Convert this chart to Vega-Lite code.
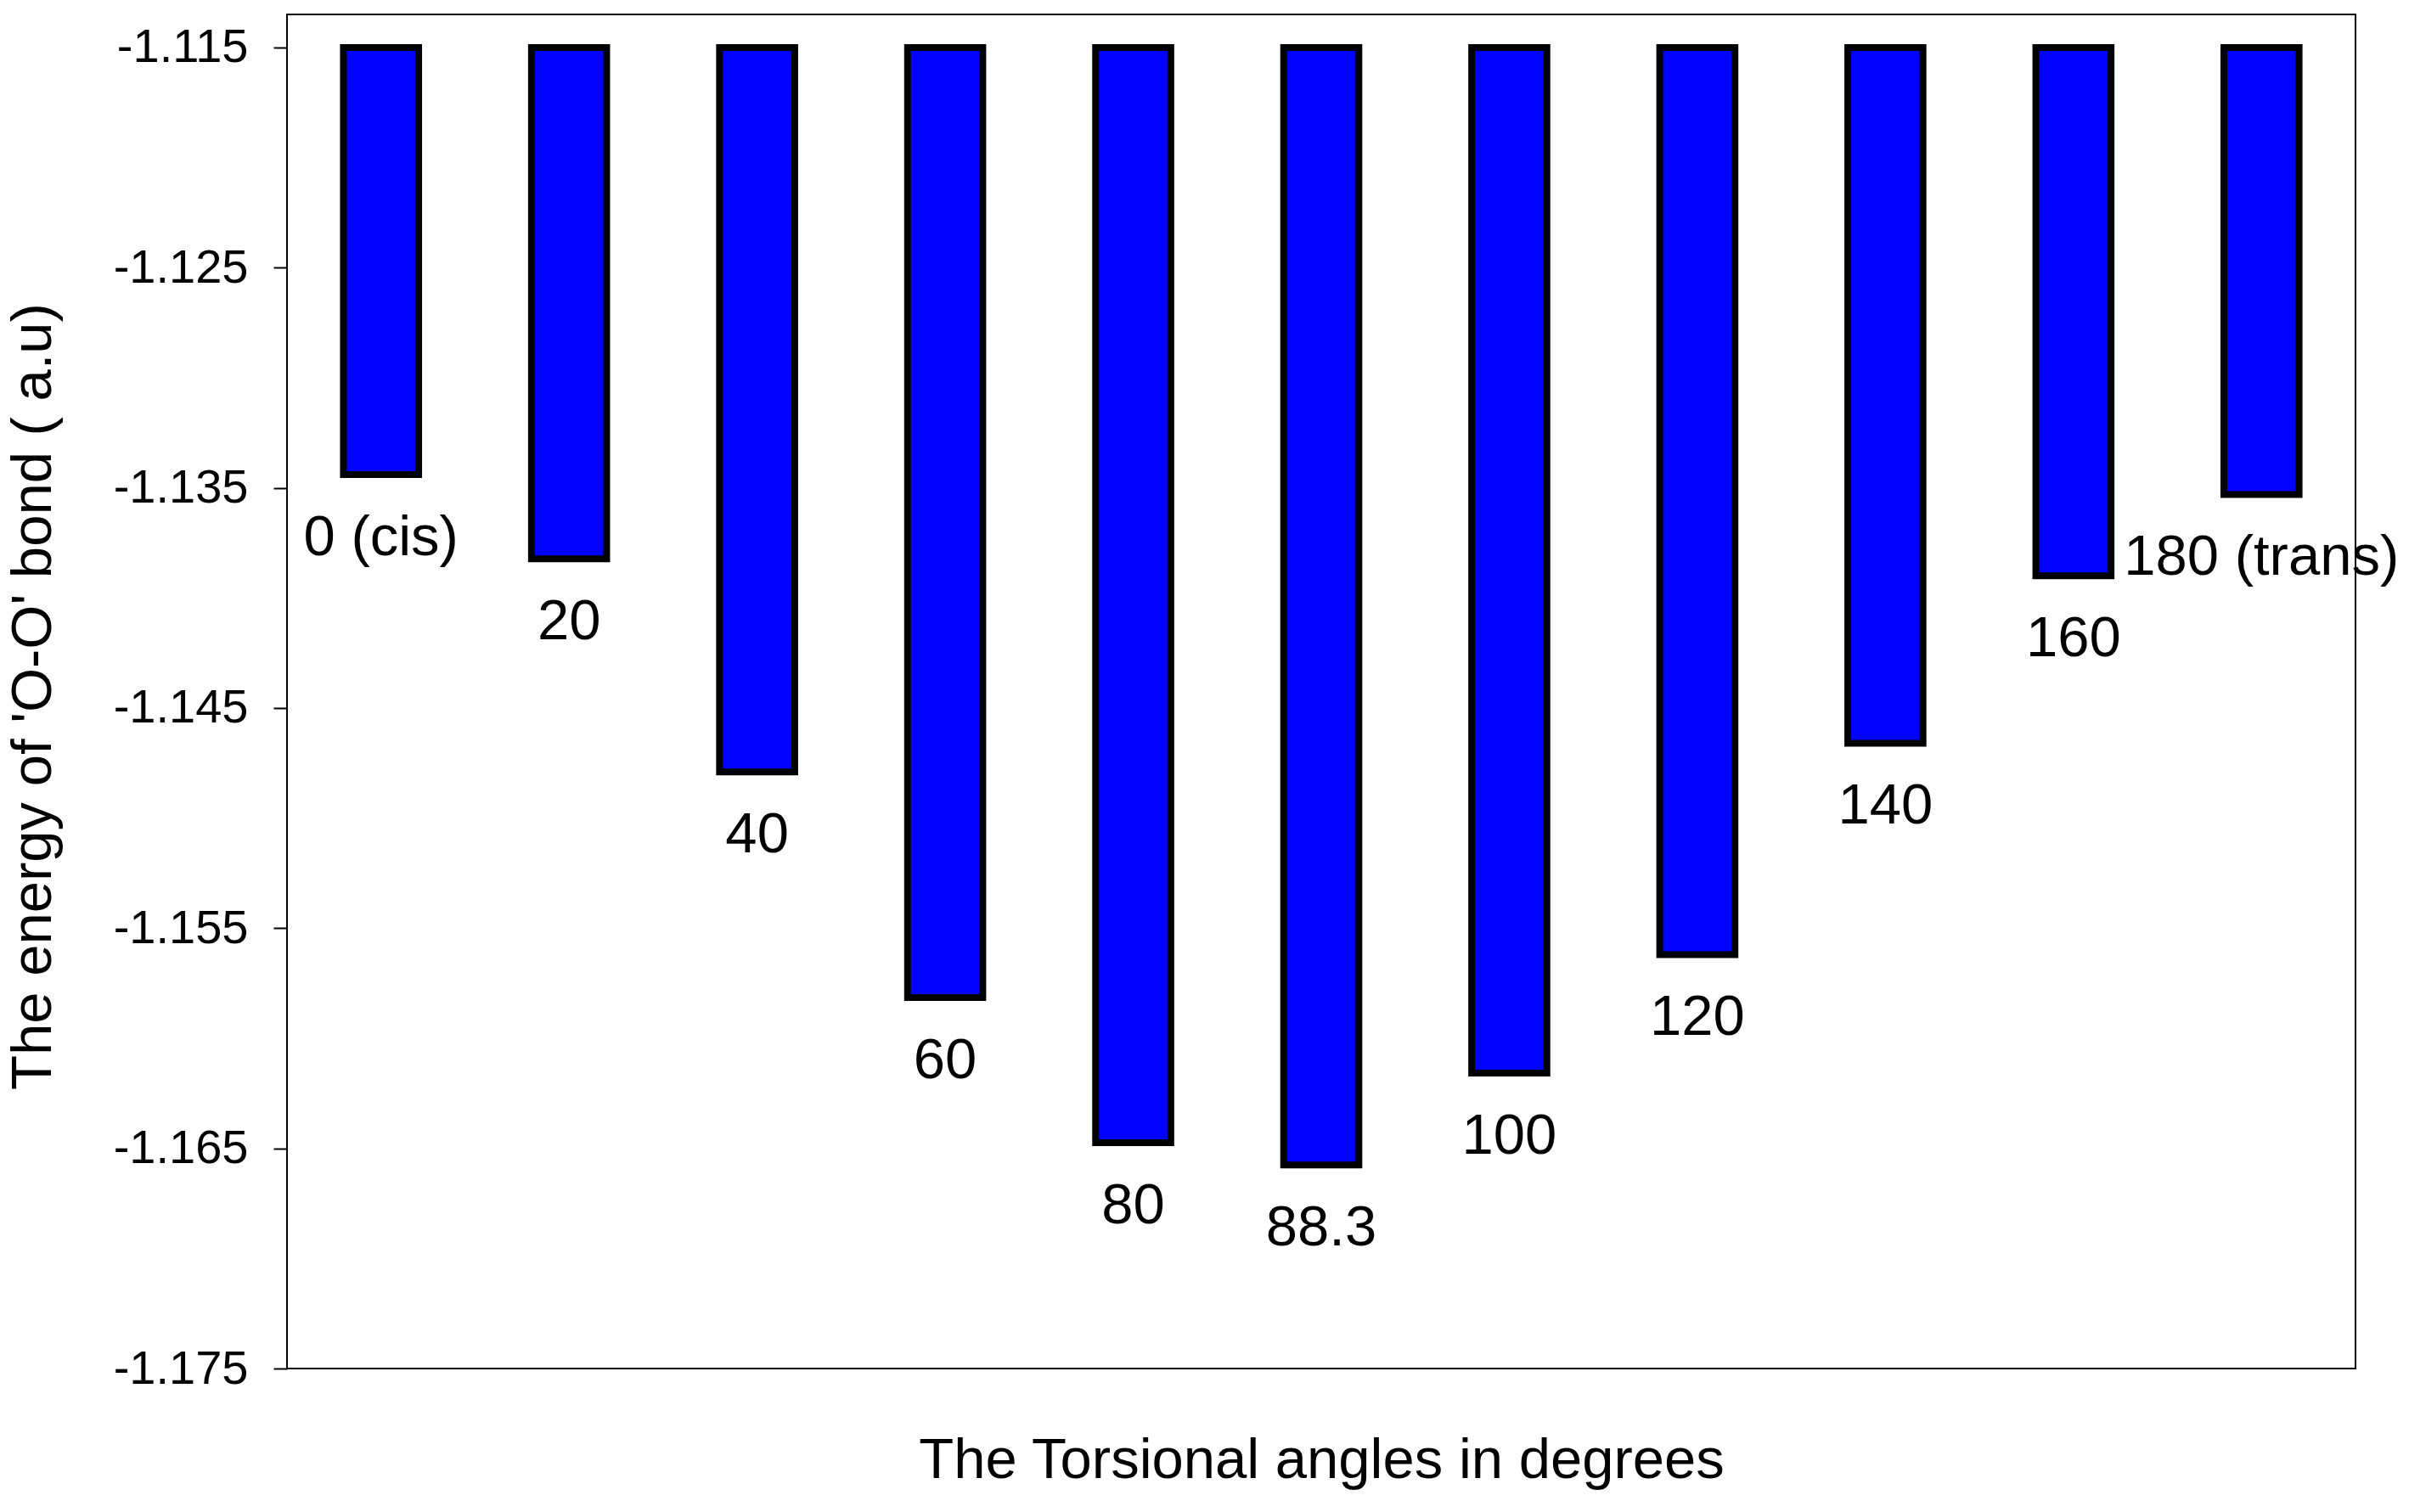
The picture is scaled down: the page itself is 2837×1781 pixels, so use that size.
{
  "$schema": "https://vega.github.io/schema/vega-lite/v6.json",
  "width": 2436,
  "height": 1595,
  "autosize": {"type": "none"},
  "padding": {"left": 338, "top": 17, "right": 63, "bottom": 169},
  "background": "white",
  "config": {
    "view": {"stroke": "black", "strokeWidth": 2},
    "font": "Liberation Sans, Arial, sans-serif"
  },
  "data": {
    "values": [
      {"label": "0 (cis)", "energy": -1.1344},
      {"label": "20", "energy": -1.13823},
      {"label": "40", "energy": -1.1479},
      {"label": "60", "energy": -1.15815},
      {"label": "80", "energy": -1.16474},
      {"label": "88.3", "energy": -1.16576},
      {"label": "100", "energy": -1.16158},
      {"label": "120", "energy": -1.1562},
      {"label": "140", "energy": -1.1466},
      {"label": "160", "energy": -1.1390},
      {"label": "180 (trans)", "energy": -1.1353}
    ]
  },
  "encoding": {
    "x": {
      "field": "label",
      "type": "nominal",
      "sort": null,
      "scale": {"paddingInner": 0.6, "paddingOuter": 0.3},
      "axis": {
        "title": "The Torsional angles in degrees",
        "labels": false,
        "ticks": false,
        "domain": false,
        "titleFont": "Liberation Sans, Arial, sans-serif",
        "titleFontSize": 67,
        "titleFontWeight": "normal",
        "titleColor": "black",
        "titleBaseline": "alphabetic",
        "titleY": 128
      }
    }
  },
  "layer": [
    {
      "mark": {"type": "bar", "fill": "#0000FF", "stroke": "black", "strokeWidth": 8, "strokeJoin": "miter"},
      "encoding": {
        "y": {
          "field": "energy",
          "type": "quantitative",
          "scale": {"domain": [-1.175, -1.1135], "nice": false, "zero": false},
          "axis": {
            "title": "The energy of 'O-O' bond ( a.u)",
            "values": [-1.115, -1.125, -1.135, -1.145, -1.155, -1.165, -1.175],
            "labelExpr": "replace(format(datum.value, '.3f'), '\u2212', '-')",
            "grid": false,
            "domain": false,
            "ticks": true,
            "tickSize": 16,
            "tickWidth": 2,
            "tickColor": "black",
            "labelPadding": 30,
            "labelFont": "Liberation Sans, Arial, sans-serif",
            "labelFontSize": 56,
            "labelColor": "black",
            "titleFont": "Liberation Sans, Arial, sans-serif",
            "titleFontSize": 67,
            "titleFontWeight": "normal",
            "titleColor": "black",
            "titleAngle": -90,
            "titleBaseline": "alphabetic",
            "titleAlign": "center",
            "titleX": -279,
            "titleY": 803
          }
        },
        "y2": {"datum": -1.115}
      }
    },
    {
      "mark": {"type": "text", "baseline": "alphabetic", "align": "center", "dy": 95, "fontSize": 67, "color": "black", "font": "Liberation Sans, Arial, sans-serif"},
      "encoding": {
        "y": {"field": "energy", "type": "quantitative"},
        "text": {"field": "label"}
      }
    }
  ]
}
